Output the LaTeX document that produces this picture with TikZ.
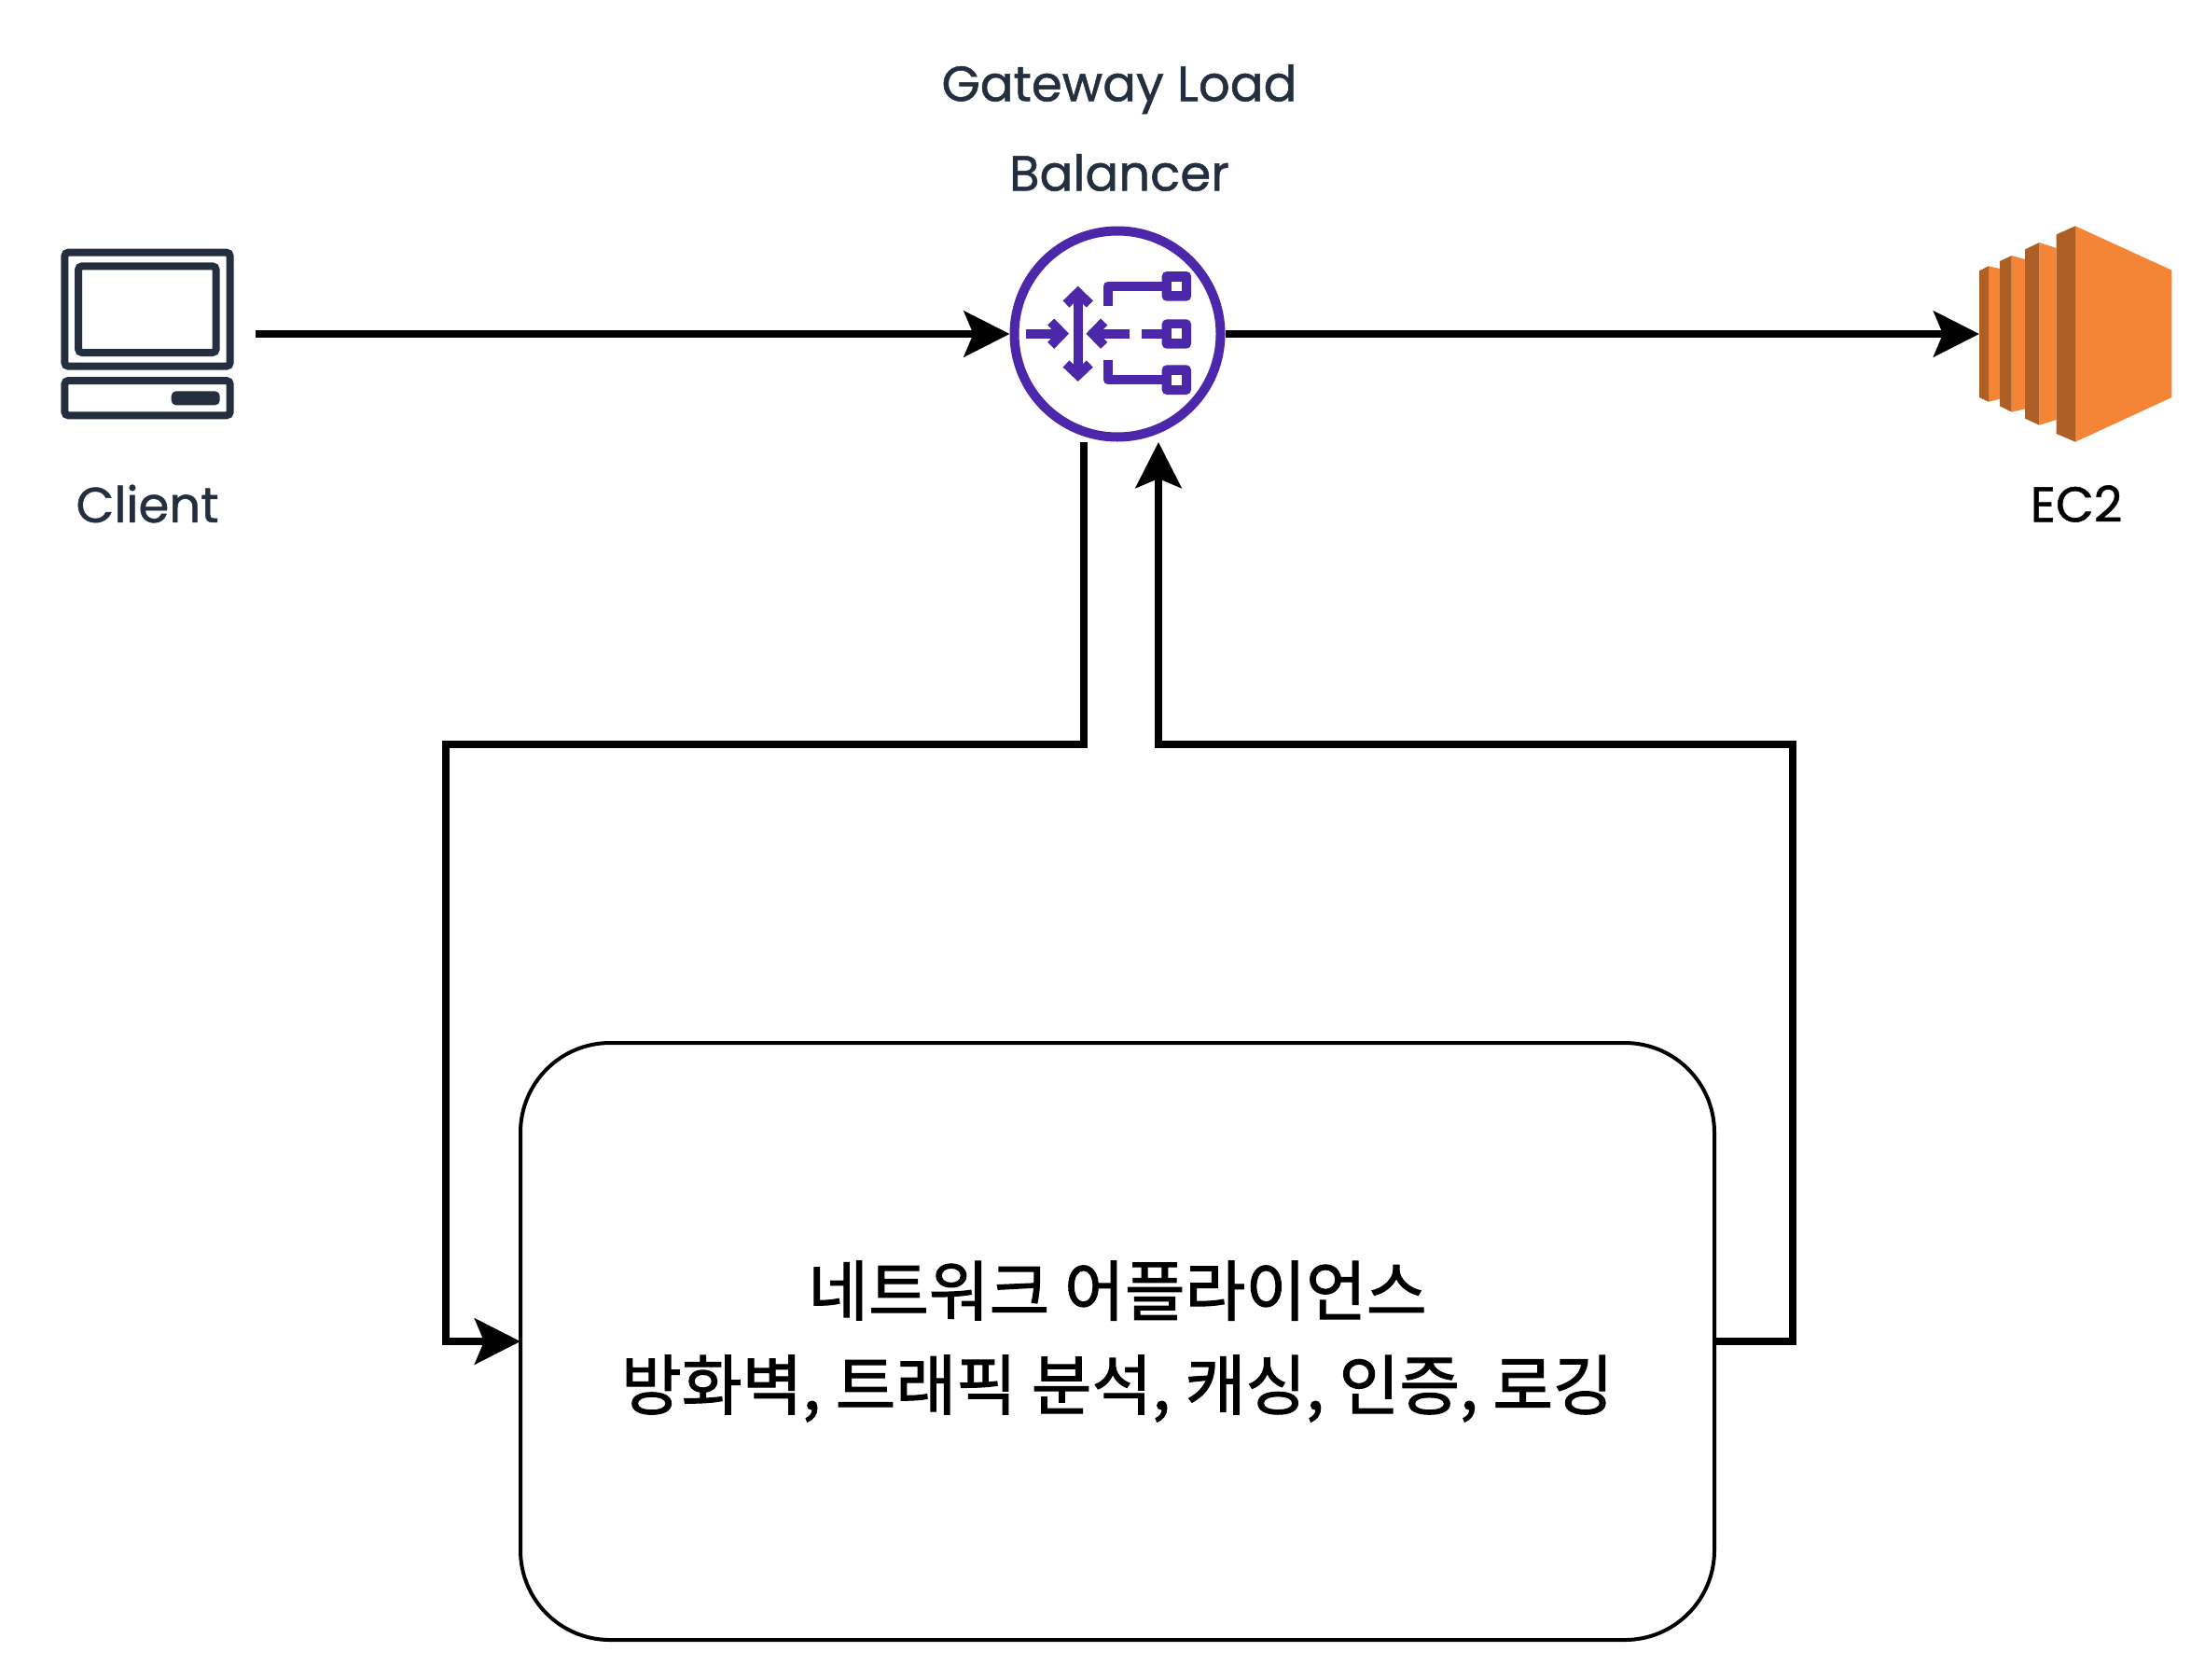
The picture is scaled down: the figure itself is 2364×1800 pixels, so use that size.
\documentclass[tikz,border=0pt]{standalone}
\usepackage{fontspec}
\setmainfont[FakeBold=1,AutoFakeBold=0]{Poppins}
\newfontfamily\krfont[FakeBold=1.5,AutoFakeBold=0]{Noto Sans CJK KR}
\usetikzlibrary{arrows.meta}
\definecolor{awsink}{HTML}{232F3E}
\definecolor{lbviolet}{HTML}{4D27AA}
\definecolor{ecorange}{HTML}{F58536}
\definecolor{ecdark}{HTML}{AD5F25}
\tikzset{
  conn/.style={line width=4pt,draw=black,miter limit=10,-{Stealth[length=24.5pt,width=24.5pt,inset=5pt]}},
  lblink/.style={font=\fontsize{26.5}{48}\selectfont,text=awsink,align=center,inner sep=0pt},
  lbline/.style={draw=lbviolet,line width=5pt,line cap=butt,line join=miter},
  lbbend/.style={lbline,line join=round},
  lbsq/.style={fill=lbviolet,rounded corners=2.5pt},
  lbhole/.style={fill=white},
  anchorbox/.style={inner sep=0pt,outer sep=0pt,draw=none},
  eclight/.style={fill=ecorange,draw=none},
  ecshade/.style={fill=ecdark,draw=none},
  pcline/.style={draw=awsink,line width=4pt,rounded corners=2pt},
}
\begin{document}
\begin{tikzpicture}[x=0.5pt,y=-0.5pt]
\useasboundingbox (0,0) rectangle (2364,1800);
% anchors
\node[anchorbox,minimum width=116pt,minimum height=92pt] (client) at (158,358) {};
\node[anchorbox,minimum width=103pt,minimum height=116pt] (ec2) at (2225,358) {};
\node[circle,draw=lbviolet,line width=5pt,inner sep=0pt,outer sep=2.5pt,minimum size=110.5pt] (lb) at (1198,358) {};
% box
\node[draw=black,line width=2pt,rounded corners=48pt,minimum width=640pt,minimum height=320pt,
  align=center,inner sep=0pt,outer sep=0pt,font=\krfont\fontsize{35.2}{50.5}\selectfont] (appliance) at (1198,1438)
  {네트워크 어플라이언스\\방화벽, 트래픽 분석, 캐싱, 인증, 로깅};
% labels
\node[lblink] (lbtext) at (1200,137) {Gateway Load\\Balancer};
\node[lblink] (clienttext) at (158,540) {Client};
\node[lblink,text=black] (ectext) at (2226,540) {EC2};
% connector helpers
\coordinate (lbOut) at (1162,474);
\coordinate (lbIn) at (1242,474);
\coordinate (leftTurn) at (478,798);
\coordinate (rightTurn) at (1922,798);
% connectors
\draw[conn] (client.east) -- (lb.west);
\draw[conn] (lb.east) -- (ec2.west);
\draw[conn] (lbOut) |- (leftTurn) |- (appliance.west);
\draw[conn] (appliance.east) -| (rightTurn) -| (lbIn);
% client icon
\begin{scope}[shift={(40,240)},x=0.16667pt,y=-0.16667pt]
\draw[pcline] (88,92) rectangle (620,458);
\draw[pcline] (132,136) rectangle (575,414);
\draw[pcline] (88,504) rectangle (620,616);
\fill[awsink,rounded corners=2.5pt] (431,538) rectangle (587,583);
\end{scope}
% load balancer glyph
\begin{scope}[shift={(1040,220)},x=0.16667pt,y=-0.16667pt]
\draw[lbline] (179,413) -- (297,413);
\draw[lbline] (260,375) -- (297,413) -- (260,451);
\draw[lbline] (512,413) -- (394,413);
\draw[lbline] (431,375) -- (394,413) -- (431,451);
\draw[lbline] (347,283) -- (347,544);
\draw[lbline] (309,318) -- (347,281) -- (385,318);
\draw[lbline] (309,510) -- (347,546) -- (385,510);
\draw[lbbend] (443,325) -- (443,260) -- (620,260);
\draw[lbline] (553,413) -- (620,413);
\draw[lbbend] (443,498) -- (443,562) -- (620,562);
\path[lbsq] (617,213) rectangle (711,308);
\path[lbsq] (617,367) rectangle (711,461);
\path[lbsq] (617,514) rectangle (711,609);
\path[lbhole] (647,245) rectangle (681,277);
\path[lbhole] (647,397) rectangle (681,430);
\path[lbhole] (647,546) rectangle (681,579);
\end{scope}
% EC2 icon
\begin{scope}[shift={(2100,220)},x=0.16667pt,y=-0.16667pt]
\fill[eclight] (96,196) -- (132,204) -- (132,623) -- (96,632) -- cycle;
\fill[ecshade] (66,211) -- (96,196) -- (96,632) -- (66,618) -- cycle;
\fill[eclight] (170,162) -- (213,174) -- (213,655) -- (170,665) -- cycle;
\fill[ecshade] (132,180) -- (170,162) -- (170,665) -- (132,646) -- cycle;
\fill[eclight] (259,120) -- (314,138) -- (314,690) -- (259,707) -- cycle;
\fill[ecshade] (213,142) -- (259,120) -- (259,707) -- (213,686) -- cycle;
\fill[eclight] (375,67) -- (685,209) -- (685,618) -- (375,761) -- cycle;
\fill[ecshade] (314,94) -- (375,67) -- (375,761) -- (314,735) -- cycle;
\end{scope}
\end{tikzpicture}
\end{document}
